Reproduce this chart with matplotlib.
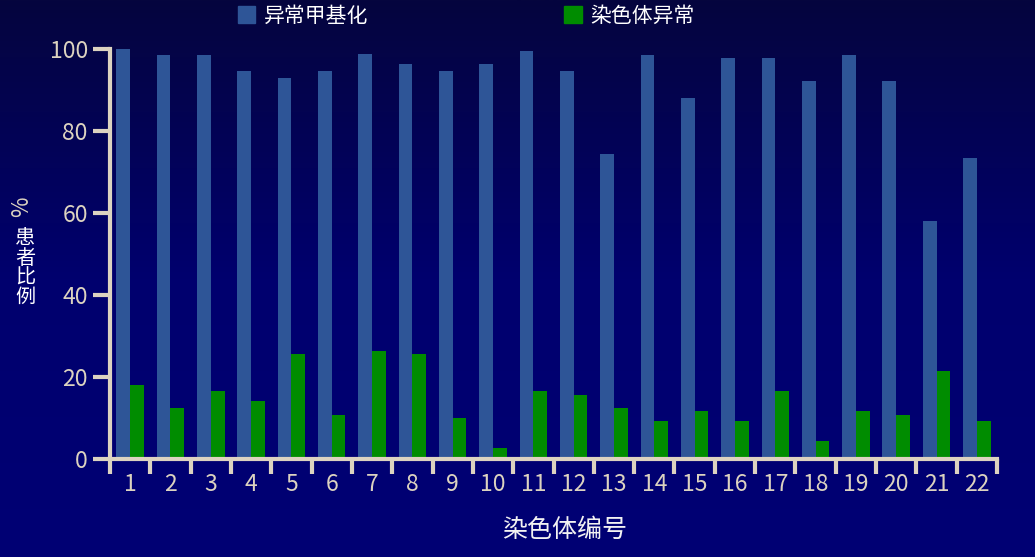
import numpy as np
import matplotlib
matplotlib.use('Agg')
import matplotlib.pyplot as plt
from matplotlib.colors import LinearSegmentedColormap
from matplotlib.patches import Patch

plt.rcParams['font.family'] = ['Noto Sans CJK SC', 'DejaVu Sans']

# data
chromosomes = [str(i) for i in range(1, 23)]
methylation = [100, 98.5, 98.5, 94.6, 93.0, 94.6, 98.8, 96.3, 94.6, 96.3, 99.5,
               94.6, 74.4, 98.5, 88.0, 97.8, 97.8, 92.2, 98.5, 92.2, 58.0, 73.4]
chrom_abnormal = [18.0, 12.4, 16.6, 14.1, 25.6, 10.7, 26.3, 25.6, 10.0, 2.7, 16.6,
                  15.6, 12.4, 9.3, 11.7, 9.3, 16.6, 4.4, 11.7, 10.7, 21.5, 9.3]
series_names = ['异常甲基化', '染色体异常']

blue = '#2E5597'
green = '#008C00'
axis_col = '#DCD3C0'

fig = plt.figure(figsize=(10.35, 5.57), dpi=100)

# background gradient
bg = fig.add_axes([0, 0, 1, 1])
grad = LinearSegmentedColormap.from_list('bg', ['#05053E', '#00006E', '#000074'])
bg.imshow(np.linspace(0, 1, 256).reshape(-1, 1), aspect='auto', cmap=grad,
          extent=[0, 1, 0, 1])
bg.axis('off')

ax = fig.add_axes([110 / 1035, 1 - 459 / 557, 887 / 1035, 410 / 557])
ax.patch.set_alpha(0)

x = np.arange(1, len(chromosomes) + 1)
w = 0.34
ax.bar(x - w / 2, methylation, w, color=blue)
ax.bar(x + w / 2, chrom_abnormal, w, color=green)

ax.set_xlim(0.5, len(chromosomes) + 0.5)
ax.set_ylim(0, 100)

for s in ['top', 'right']:
    ax.spines[s].set_visible(False)
for s in ['left', 'bottom']:
    ax.spines[s].set_color(axis_col)
    ax.spines[s].set_linewidth(3)

ax.set_yticks([0, 20, 40, 60, 80, 100])
ax.tick_params(axis='y', colors=axis_col, length=12, width=3, labelsize=16.5,
               pad=4)

# ticks between categories, labels at centres
ax.set_xticks(np.arange(0.5, len(chromosomes) + 1, 1))
ax.set_xticklabels([])
ax.set_xticks(x, minor=True)
ax.set_xticklabels(chromosomes, minor=True)
ax.tick_params(axis='x', which='major', colors=axis_col, length=11, width=3)
ax.tick_params(axis='x', which='minor', length=0, labelsize=16.5, pad=10,
               labelcolor=axis_col)

ax.set_xlabel('染色体编号', color='#F2F2F2', fontsize=18, labelpad=15, x=0.513)

fig.text(22 / 1035, 1 - 207 / 557, '%', rotation=90, color=axis_col,
         fontsize=16, ha='center', va='center')
fig.text(25 / 1035, 1 - 268 / 557, '患\n者\n比\n例', color='white',
         fontsize=14.5, ha='center', va='center', linespacing=0.92)

handles = [Patch(color=blue), Patch(color=green)]
fig.legend(handles, series_names, loc='upper left', ncol=2, frameon=False,
           bbox_to_anchor=(219 / 1035, 1 + 14 / 557), fontsize=15,
           labelcolor='white', handlelength=0.85, handleheight=0.85,
           handletextpad=0.4, columnspacing=9.4)

fig.savefig('out.png', dpi=100)
